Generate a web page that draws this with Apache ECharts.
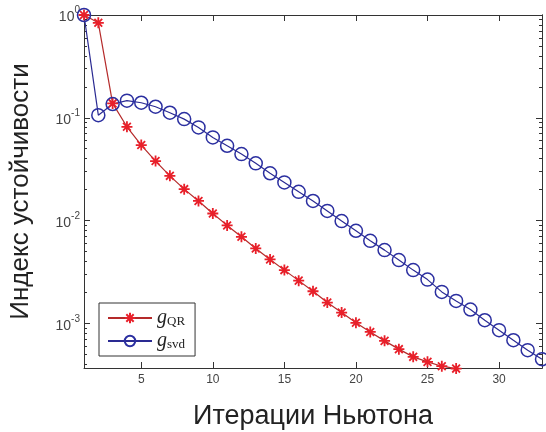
<!DOCTYPE html>
<html>
<head>
<meta charset="utf-8">
<script src="https://cdn.jsdelivr.net/npm/echarts@6/dist/echarts.min.js"></script>
<style>html,body{margin:0;padding:0;background:#fff}#c{width:546px;height:432px}</style>
</head>
<body>
<div id="c"></div>
<script>
// ---- data ----
const iterQR = [1,2,3,4,5,6,7,8,9,10,11,12,13,14,15,16,17,18,19,20,21,22,23,24,25,26,27];
const gQR = [1.0,0.84,0.138,0.0817,0.0542,0.0379,0.0272,0.0202,0.0155,0.0117,0.00896,0.00694,0.00535,0.00418,0.00329,0.0026,0.00205,0.00159,0.00127,0.00101,0.000824,0.000674,0.00056,0.000471,0.000421,0.000382,0.000362];
const iterSVD = [1,2,3,4,5,6,7,8,9,10,11,12,13,14,15,16,17,18,19,20,21,22,23,24,25,26,27,28,29,30,31,32,33];
const gSVD = [1.0,0.106,0.136,0.1466,0.140,0.128,0.112,0.097,0.0805,0.0644,0.0534,0.0443,0.0360,0.0288,0.0235,0.0190,0.0155,0.0124,0.00987,0.00794,0.00634,0.00515,0.00412,0.00329,0.00266,0.00202,0.00165,0.00136,0.00107,0.000857,0.000684,0.000547,0.000447];
const xTicks = [5,10,15,20,25,30];
const yDecades = [-3,-2,-1,0];
const xMin = 1, xMax = 33;
const yMin = 3.67e-4, yMax = 1;
const xTitle = 'Итерации Ньютона';
const yTitle = 'Индекс устойчивости';
const legendNames = ['gQR','gsvd'];

// ---- helpers ----
const lmin = Math.log10(yMin), lmax = Math.log10(yMax);
const minorTicks = [];
for (let n = -4; n < 0; n++) for (let k = 2; k <= 9; k++) {
  const v = Math.log10(k) + n;
  if (v >= lmin && v <= lmax) minorTicks.push(v);
}
const axisCol = '#333';
const starPath = 'path://M0,-10L0,10M-10,0L10,0M-7.07,-7.07L7.07,7.07M-7.07,7.07L7.07,-7.07';

function decoY(pos, ticks, len, withLabel, name) {
  return {
    type: 'value', position: pos, min: lmin, max: lmax,
    axisLine: {show: true, onZero: false, lineStyle: {color: axisCol, width: 1}},
    axisTick: {show: true, inside: true, length: len, customValues: ticks, lineStyle: {color: axisCol}},
    axisLabel: withLabel ? {
      show: true, customValues: yDecades, margin: 4,
      formatter: v => '{b|10}{s|' + Math.round(v) + '}',
      rich: {
        b: {fontSize: 14, color: '#444', fontFamily: 'Liberation Sans', lineHeight: 19, verticalAlign: 'bottom'},
        s: {fontSize: 10, color: '#444', fontFamily: 'Liberation Sans', lineHeight: 10, verticalAlign: 'top'}
      }
    } : {show: false},
    splitLine: {show: false},
    name: name || '', nameLocation: 'middle', nameGap: 50,
    nameTextStyle: {fontSize: 26, color: '#222', fontFamily: 'Liberation Sans'}
  };
}
function decoX(pos, withLabel, name) {
  return {
    type: 'value', position: pos, min: xMin, max: xMax,
    axisLine: {show: true, onZero: false, lineStyle: {color: axisCol, width: 1}},
    axisTick: {show: true, inside: true, length: 6, customValues: xTicks, lineStyle: {color: axisCol}},
    axisLabel: withLabel ? {show: true, customValues: xTicks, margin: 6, fontSize: 12, color: '#444', fontFamily: 'Liberation Sans'} : {show: false},
    splitLine: {show: false},
    name: name || '', nameLocation: 'middle', nameGap: 35,
    nameTextStyle: {fontSize: 27, color: '#222', fontFamily: 'Liberation Sans'}
  };
}

const chart = echarts.init(document.getElementById('c'), null, {renderer: 'canvas'});
chart.setOption({
  animation: false,
  backgroundColor: '#fff',
  grid: {left: 84, right: 4, top: 15, bottom: 64, containLabel: false, outerBoundsMode: 'none'},
  xAxis: [decoX('bottom', true, xTitle), decoX('top', false)],
  yAxis: [
    {type: 'log', logBase: 10, min: yMin, max: yMax, show: false},
    decoY('left', yDecades, 6, true, yTitle),
    decoY('left', minorTicks, 3, false),
    decoY('right', yDecades, 6, false),
    decoY('right', minorTicks, 3, false)
  ],
  legend: {
    orient: 'vertical', left: 99, top: 303,
    data: legendNames,
    itemWidth: 44, itemHeight: 13, itemGap: 3,
    padding: [5, 10, 5, 8],
    borderColor: '#333', borderWidth: 1, backgroundColor: '#fff',
    formatter: n => n === 'gQR' ? '{g|g}{s|QR}' : '{g|g}{s|svd}',
    textStyle: {
      rich: {
        g: {fontFamily: 'Liberation Serif', fontStyle: 'italic', fontSize: 20, color: '#222', lineHeight: 20, verticalAlign: 'top'},
        s: {fontFamily: 'Liberation Serif', fontSize: 13, color: '#222', lineHeight: 20, verticalAlign: 'bottom', padding: [6,0,0,0]}
      }
    }
  },
  series: [
    {
      name: 'gQR', type: 'line', xAxisIndex: 0, yAxisIndex: 0,
      data: iterQR.map((x, i) => [x, gQR[i]]),
      symbol: starPath, symbolSize: 11, clip: false,
      lineStyle: {color: '#b52a2a', width: 1.2},
      itemStyle: {color: 'none', borderColor: '#e8202a', borderWidth: 1.8}
    },
    {
      name: 'gsvd', type: 'line', xAxisIndex: 0, yAxisIndex: 0,
      data: iterSVD.map((x, i) => [x, gSVD[i]]),
      symbol: 'circle', symbolSize: 13, clip: false,
      lineStyle: {color: '#2a2a92', width: 1.2},
      itemStyle: {color: 'none', borderColor: '#2b2fa0', borderWidth: 1.5}
    }
  ]
});
</script>
</body>
</html>
